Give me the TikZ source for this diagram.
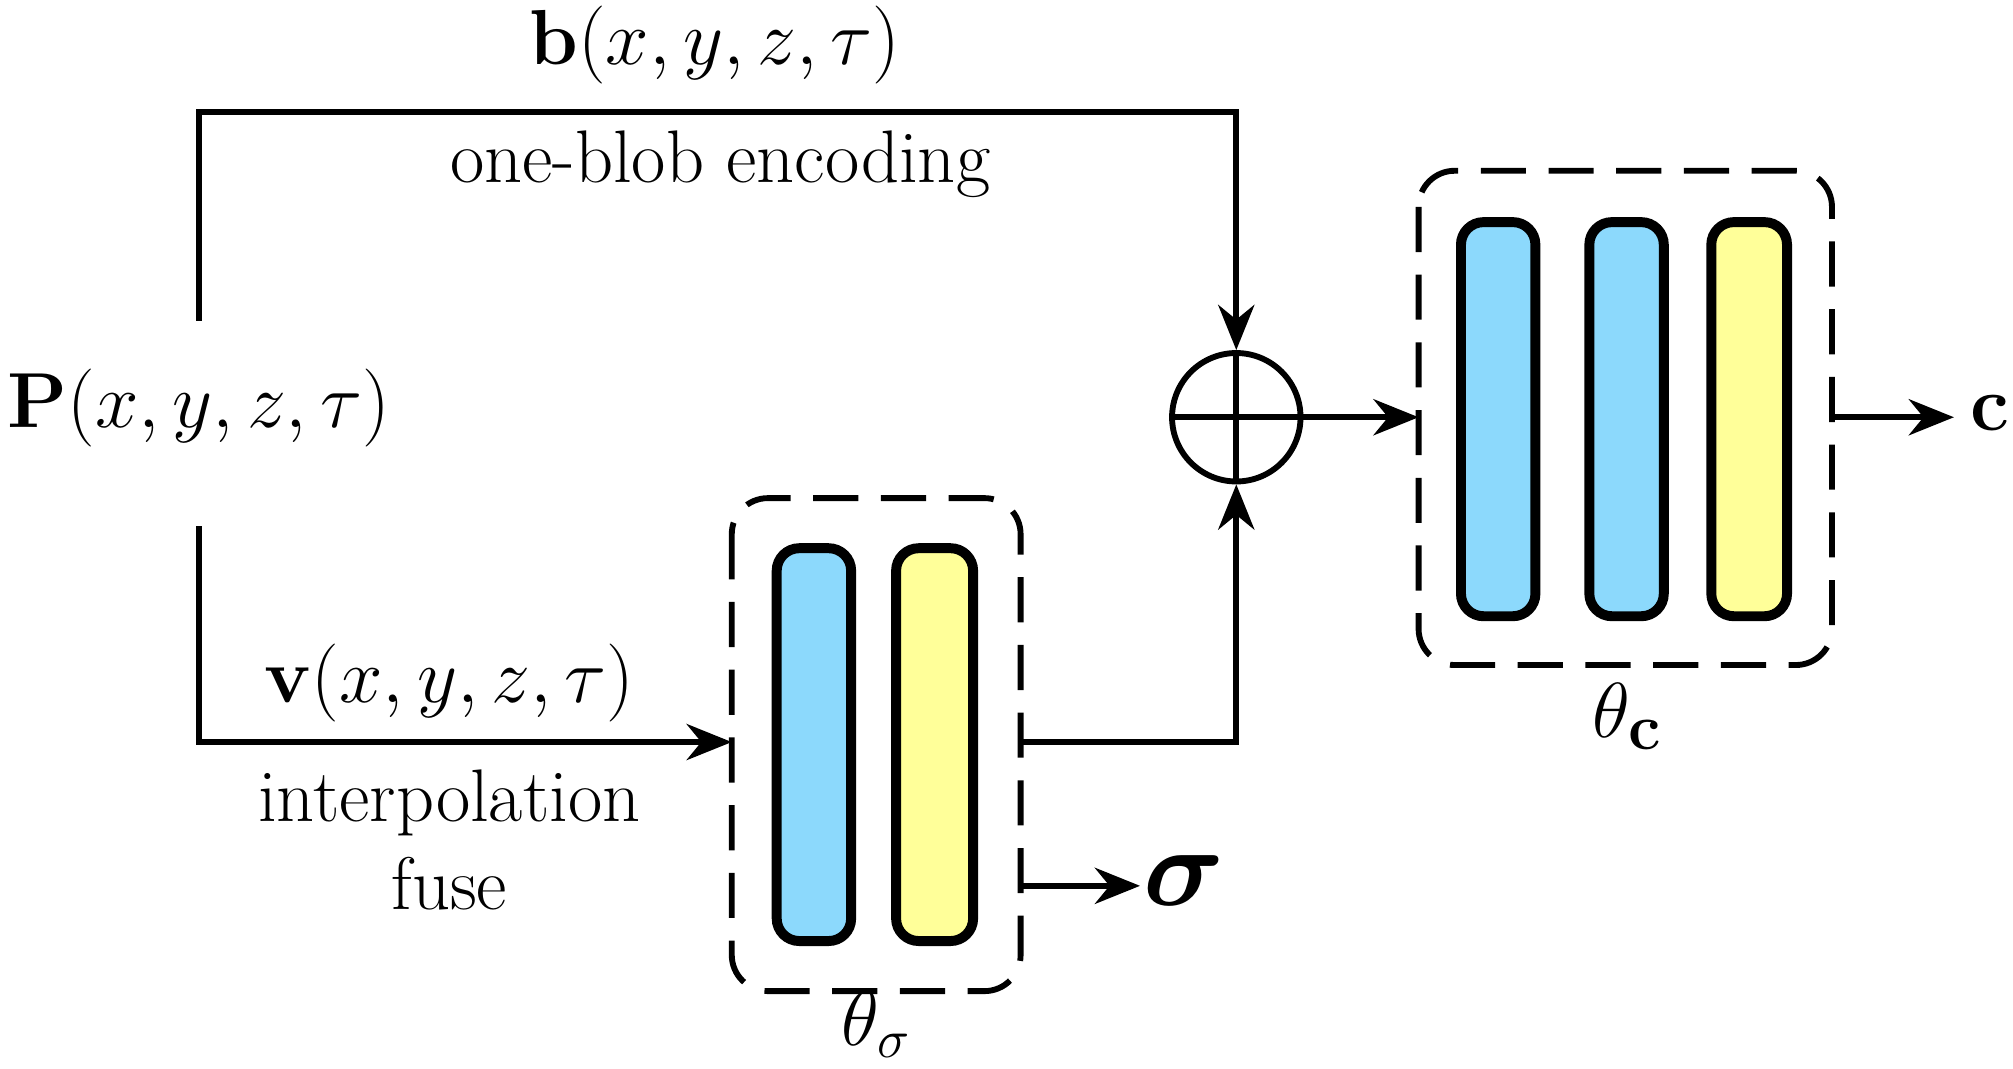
\documentclass[tikz,border=0pt]{standalone}
\usepackage{amsmath,bm}
\usetikzlibrary{arrows.meta}
\definecolor{barblue}{HTML}{8CD9FC}
\definecolor{baryellow}{HTML}{FFFF99}
\begin{document}
\begin{tikzpicture}[x=0.01cm,y=-0.01cm,
  line/.style={line width=1.3pt},
  arr/.style={line width=1.3pt,-{Stealth[length=10pt,width=8pt]}},
  bar/.style={draw,line width=2.2pt,rounded corners=5pt},
  dbox/.style={draw,line width=1.3pt,dashed,dash pattern=on 10pt off 5pt,rounded corners=8pt},
  mlab/.style={font=\fontsize{19}{22}\selectfont},
  tlab/.style={font=\fontsize{16.5}{19.5}\selectfont}]
\useasboundingbox (0,0) rectangle (1568,832);
% boxes
\draw[dbox] (570,388) rectangle (795,772);
\draw[bar,fill=barblue] (605,427) rectangle (663,733);
\draw[bar,fill=baryellow] (698,427) rectangle (758,733);
\draw[dbox] (1105,133) rectangle (1427,518);
\draw[bar,fill=barblue] (1138,173) rectangle (1196,480);
\draw[bar,fill=barblue] (1238,173) rectangle (1296,480);
\draw[bar,fill=baryellow] (1333,173) rectangle (1392,480);
\coordinate (sbL) at (570,578);
\coordinate (sbR) at (795,578);
\coordinate (sbS) at (795,690);
\coordinate (bbL) at (1105,325);
\coordinate (bbR) at (1427,325);
% sum
\node[circle,draw,line width=1.3pt,minimum size=1.0cm,inner sep=0pt] (sum) at (963,325) {};
\draw[line width=1.3pt] (sum.north)--(sum.south) (sum.west)--(sum.east);
% labels
\node[mlab] (P) at (155,318) {$\mathbf{P}(x,y,z,\tau)$};
\node[mlab] (b) at (557,35) {$\mathbf{b}(x,y,z,\tau)$};
\node[tlab] at (561,128) {one-blob encoding};
\node[mlab] at (350,532) {$\mathbf{v}(x,y,z,\tau)$};
\node[tlab,align=center] at (350,654) {interpolation\\fuse};
\node[font=\fontsize{25}{28}\selectfont] (sig) at (922,686) {$\bm{\sigma}$};
\node[mlab] (c) at (1550,322) {$\mathbf{c}$};
\node[font=\fontsize{18}{20}\selectfont] at (683,798) {$\theta_\sigma$};
\node[mlab] at (1268,558) {$\theta_{\mathbf{c}}$};
% connectors
\draw[arr] (155,250) |- (963,87) -- (sum.north);
\draw[arr] (155,410) |- (sbL);
\draw[arr] (sbR) -| (sum.south);
\draw[arr] (sbS) -- (888,690);
\draw[arr] (sum.east) -- (bbL);
\draw[arr] (bbR) -- (1522,325);
\end{tikzpicture}
\end{document}
